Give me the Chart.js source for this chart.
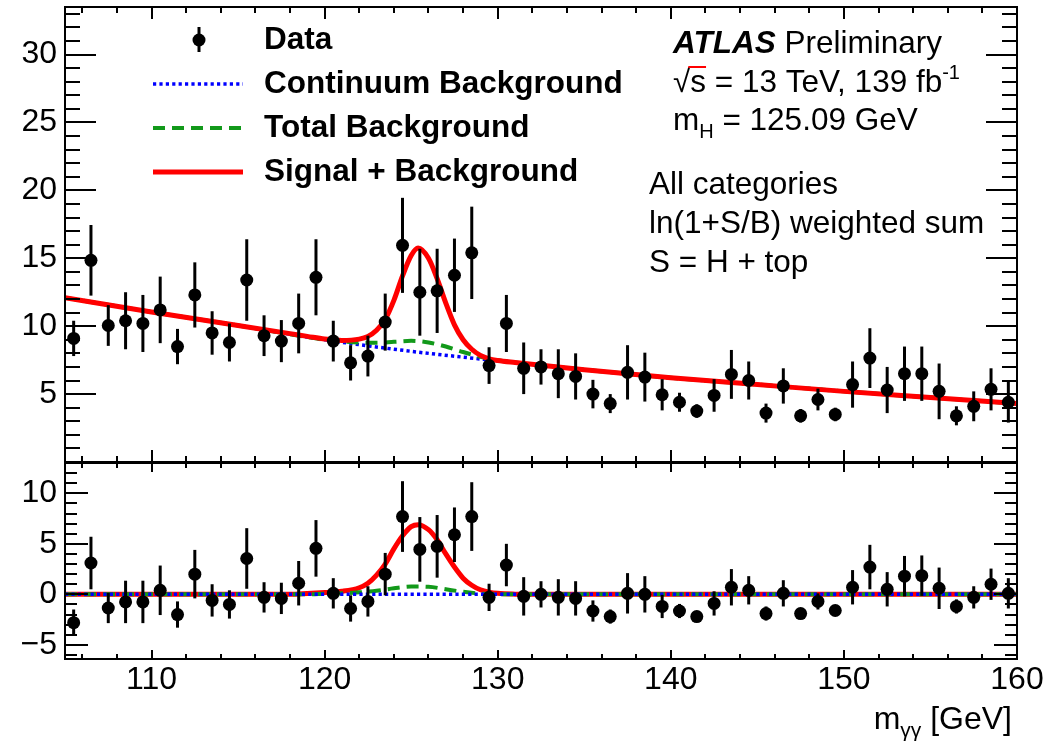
<!DOCTYPE html>
<html>
<head>
<meta charset="utf-8">
<script src="https://cdn.jsdelivr.net/npm/chart.js@4/dist/chart.umd.min.js"></script>
<style>
  body { margin: 0; background: #fff; }
  #wrap { position: relative; width: 1060px; height: 744px; }
  #topChart { position: absolute; left: 0; top: 0; }
  #ratioChart { position: absolute; left: 0; top: 455px; }
</style>
</head>
<body>
<div id="wrap">
  <canvas id="topChart" width="1060" height="470"></canvas>
  <canvas id="ratioChart" width="1060" height="289"></canvas>
</div>
<script>
// Diphoton mass spectrum, ln(1+S/B) weighted, with the background-subtracted panel below.

const massBins = [105.5, 106.5, 107.5, 108.5, 109.5, 110.5, 111.5, 112.5, 113.5, 114.5,
  115.5, 116.5, 117.5, 118.5, 119.5, 120.5, 121.5, 122.5, 123.5, 124.5,
  125.5, 126.5, 127.5, 128.5, 129.5, 130.5, 131.5, 132.5, 133.5, 134.5,
  135.5, 136.5, 137.5, 138.5, 139.5, 140.5, 141.5, 142.5, 143.5, 144.5,
  145.5, 146.5, 147.5, 148.5, 149.5, 150.5, 151.5, 152.5, 153.5, 154.5,
  155.5, 156.5, 157.5, 158.5, 159.5];

const dataEvents = [9.1, 14.85, 10.05, 10.4, 10.2, 11.2, 8.5, 12.3, 9.5, 8.8,
  13.4, 9.3, 8.9, 10.2, 13.6, 8.9, 7.3, 7.8, 10.3, 15.95,
  12.5, 12.6, 13.75, 15.4, 7.1, 10.2, 6.9, 7.0, 6.5, 6.3,
  5.0, 4.3, 6.6, 6.25, 4.95, 4.4, 3.75, 4.9, 6.45, 6.0,
  3.6, 5.6, 3.4, 4.6, 3.5, 5.7, 7.65, 5.3, 6.5, 6.5,
  5.2, 3.4, 4.1, 5.35, 4.4];

const dataErrors = [1.3, 2.6, 1.5, 2.1, 2.1, 2.45, 1.3, 2.4, 1.6, 1.4,
  3.0, 1.5, 1.55, 2.2, 2.8, 1.5, 1.3, 1.5, 2.1, 3.5,
  3.2, 3.1, 2.7, 3.4, 1.35, 2.1, 1.9, 1.3, 1.8, 1.7,
  1.05, 0.7, 2.0, 1.8, 1.15, 0.7, 0.5, 1.2, 1.8, 1.4,
  0.7, 1.3, 0.5, 0.8, 0.5, 1.7, 2.2, 1.7, 2.0, 2.0,
  2.05, 0.7, 1.1, 1.55, 1.5];

const dataMinusBkg = [-2.8, 3.1, -1.35, -0.75, -0.75, 0.4, -2.0, 2.0, -0.6, -1.0,
  3.55, -0.3, -0.4, 1.1, 4.55, 0.1, -1.4, -0.7, 2.0, 7.7,
  4.45, 4.75, 5.9, 7.7, -0.3, 2.9, -0.2, 0.0, -0.3, -0.4,
  -1.65, -2.2, 0.1, 0.0, -1.2, -1.65, -2.2, -0.9, 0.7, 0.4,
  -1.9, 0.1, -1.9, -0.7, -1.6, 0.7, 2.7, 0.5, 1.8, 1.85,
  0.6, -1.2, -0.3, 1.0, 0.1];

// fitted curves
const contMass = [105, 110, 115, 120, 125, 130, 135, 140, 145, 150, 155, 160];
const contValues = [12.1, 11.05, 10.05, 9.0, 8.15, 7.45, 6.8, 6.2, 5.7, 5.2, 4.75, 4.3];

const totalMass = [105, 110, 115, 119, 120, 121, 122, 123, 124, 125, 126, 127, 128, 129, 130, 131,
  135, 140, 145, 150, 155, 160];
const totalValues = [12.1, 11.05, 10.05, 9.2, 9.0, 8.88, 8.8, 8.78, 8.85, 8.92, 8.8, 8.5, 8.1, 7.75, 7.5, 7.32,
  6.8, 6.2, 5.7, 5.2, 4.75, 4.3];

const sbMass = [105, 110, 115, 118, 119, 120, 121, 122, 122.5, 123, 123.5, 124, 124.5, 125, 125.4,
  126, 126.5, 127, 127.5, 128, 128.5, 129, 129.5, 130, 131, 135, 140, 145, 150, 155, 160];
const sbValues = [12.1, 11.05, 10.05, 9.45, 9.25, 9.05, 8.95, 9.05, 9.25, 9.7, 10.5, 11.9, 13.7, 15.2, 15.75,
  15.0, 13.5, 11.7, 10.1, 9.0, 8.3, 7.85, 7.6, 7.47, 7.32, 6.8, 6.2, 5.7, 5.2, 4.75, 4.3];

// lower panel curves, continuum subtracted
const subContMass = [105, 160];
const subContValues = [0, 0];
const subTotalMass = [105, 119, 120, 121, 122, 123, 124, 125, 126, 127, 128, 129, 130, 131, 160];
const subTotalValues = [0, 0, 0.05, 0.1, 0.2, 0.35, 0.6, 0.78, 0.75, 0.5, 0.25, 0.08, 0.02, 0, 0];
const subSbMass = [105, 118, 119, 120, 121, 122, 122.5, 123, 123.5, 124, 124.5, 125, 125.4,
  126, 126.5, 127, 127.5, 128, 128.5, 129, 129.5, 130, 131, 132, 160];
const subSbValues = [0, 0, 0.08, 0.18, 0.3, 0.65, 1.1, 1.9, 3.0, 4.5, 5.8, 6.7, 6.9,
  6.4, 5.4, 4.0, 2.7, 1.6, 0.9, 0.45, 0.22, 0.1, 0.02, 0, 0];

const FONT = '"Liberation Sans", Arial, Helvetica, sans-serif';
const BLUE = '#0000ff', GREEN = '#12991a', RED = '#ff0000';

function pts(xs, ys) {
  return xs.map((x, i) => ({ x: x, y: ys[i] }));
}

function curve(label, xs, ys, color, width, dash, order) {
  return {
    label: label, data: pts(xs, ys), borderColor: color, borderWidth: width,
    borderDash: dash, pointRadius: 0, cubicInterpolationMode: 'monotone', order: order
  };
}

function dataSet(ys) {
  return {
    label: 'Data', data: pts(massBins, ys), errors: dataErrors, showLine: false,
    pointRadius: 6.5, pointBackgroundColor: '#000', pointBorderWidth: 0, order: 0
  };
}

// draw text made of pieces (for sub/superscripts)
function richText(ctx, x, y, parts) {
  let cx = x;
  parts.forEach(p => {
    ctx.font = p.font;
    ctx.fillText(p.t, cx, y + (p.dy || 0));
    cx += ctx.measureText(p.t).width;
  });
  return cx;
}

function richWidth(ctx, parts) {
  let w = 0;
  parts.forEach(p => { ctx.font = p.font; w += ctx.measureText(p.t).width; });
  return w;
}

// no extra room for the end labels, the frame is fixed by the layout padding
function noLabelPadding(s) {
  s.paddingTop = 0; s.paddingBottom = 0;
  s.paddingLeft = 0; s.paddingRight = 0;
}

// vertical error bars on the data points
const errorBars = {
  id: 'errorBars',
  afterDatasetsDraw(chart) {
    const ctx = chart.ctx, yScale = chart.scales.y, a = chart.chartArea;
    chart.data.datasets.forEach((ds, i) => {
      if (!ds.errors) return;
      const meta = chart.getDatasetMeta(i);
      ctx.save();
      ctx.beginPath();
      ctx.rect(a.left, a.top, a.right - a.left, a.bottom - a.top);
      ctx.clip();
      ctx.strokeStyle = '#000';
      ctx.lineWidth = 3;
      meta.data.forEach((pt, j) => {
        const v = ds.data[j].y, e = ds.errors[j];
        ctx.beginPath();
        ctx.moveTo(pt.x, yScale.getPixelForValue(v + e));
        ctx.lineTo(pt.x, yScale.getPixelForValue(v - e));
        ctx.stroke();
      });
      ctx.restore();
    });
  }
};

// ROOT style frame with inward ticks on all four sides
const frameTicks = {
  id: 'frameTicks',
  afterDraw(chart, args, opts) {
    const ctx = chart.ctx, a = chart.chartArea;
    const xs = chart.scales.x, ys = chart.scales.y;
    ctx.save();
    ctx.strokeStyle = '#000';
    ctx.lineWidth = 2;
    ctx.strokeRect(a.left, a.top, a.right - a.left, a.bottom - a.top);
    ctx.beginPath();
    for (let v = 106; v < 160; v += 2) {
      const px = Math.round(xs.getPixelForValue(v));
      const len = v % 10 === 0 ? opts.xMajor : opts.xMinor;
      ctx.moveTo(px, a.bottom); ctx.lineTo(px, a.bottom - len);
      ctx.moveTo(px, a.top); ctx.lineTo(px, a.top + len);
    }
    for (let v = Math.ceil(ys.min); v <= ys.max; v++) {
      const py = Math.round(ys.getPixelForValue(v));
      const len = v % 5 === 0 ? opts.yMajor : opts.yMinor;
      ctx.moveTo(a.left, py); ctx.lineTo(a.left + len, py);
      ctx.moveTo(a.right, py); ctx.lineTo(a.right - len, py);
    }
    ctx.stroke();
    ctx.restore();
  }
};

// legend and labels of the upper panel
const topLabels = {
  id: 'topLabels',
  afterDraw(chart) {
    const ctx = chart.ctx;
    const ds = chart.data.datasets;
    ctx.save();
    ctx.fillStyle = '#000';
    ctx.textBaseline = 'alphabetic';

    // legend samples
    ctx.beginPath();
    ctx.arc(199, 40, 6.5, 0, Math.PI * 2);
    ctx.fill();
    ctx.strokeStyle = '#000';
    ctx.lineWidth = 3;
    ctx.beginPath(); ctx.moveTo(199, 27); ctx.lineTo(199, 52); ctx.stroke();
    const rows = [[ds[3], 84], [ds[2], 128], [ds[1], 172]];
    rows.forEach(r => {
      ctx.strokeStyle = r[0].borderColor;
      ctx.lineWidth = r[0].borderWidth;
      ctx.setLineDash(r[0].borderDash || []);
      ctx.beginPath(); ctx.moveTo(153, r[1]); ctx.lineTo(243, r[1]); ctx.stroke();
    });
    ctx.setLineDash([]);

    ctx.font = 'bold 31.5px ' + FONT;
    ctx.fillText('Data', 264, 49);
    ctx.fillText('Continuum Background', 264, 93);
    ctx.fillText('Total Background', 264, 137);
    ctx.fillText('Signal + Background', 264, 181);

    const big = '31.5px ' + FONT, small = '20px ' + FONT;
    richText(ctx, 673, 53, [{ t: 'ATLAS', font: 'italic bold 31.5px ' + FONT }, { t: ' Preliminary', font: big }]);
    richText(ctx, 673, 92, [{ t: '\u221As = 13 TeV, 139 fb', font: big }, { t: '-1', font: small, dy: -13 }]);
    // bar over the s of the square root
    ctx.font = big;
    const rootW = ctx.measureText('\u221A').width, sW = ctx.measureText('s').width;
    ctx.lineWidth = 2;
    ctx.beginPath();
    ctx.moveTo(673 + rootW - 2, 92 - 25);
    ctx.lineTo(673 + rootW + sW, 92 - 25);
    ctx.stroke();
    richText(ctx, 673, 130, [{ t: 'm', font: big }, { t: 'H', font: small, dy: 8 }, { t: ' = 125.09 GeV', font: big }]);
    ctx.font = big;
    ctx.fillText('All categories', 649, 194);
    ctx.fillText('ln(1+S/B) weighted sum', 649, 233);
    ctx.fillText('S = H + top', 649, 272);
    ctx.restore();
  }
};

// x axis title under the lower panel
const axisTitle = {
  id: 'axisTitle',
  afterDraw(chart) {
    const ctx = chart.ctx;
    const parts = [
      { t: 'm', font: '32px ' + FONT },
      { t: '\u03B3\u03B3', font: '21px ' + FONT, dy: 8 },
      { t: ' [GeV]', font: '32px ' + FONT }
    ];
    ctx.save();
    ctx.fillStyle = '#000';
    const w = richWidth(ctx, parts);
    richText(ctx, 1012 - w, 274, parts);
    ctx.restore();
  }
};

function yAxis(min, max, hideZero) {
  return {
    min: min, max: max,
    afterFit(s) { s.width = 65; noLabelPadding(s); },
    grid: { display: false, drawTicks: false },
    border: { display: false },
    ticks: {
      stepSize: 5, includeBounds: false, padding: 8, color: '#000',
      font: { family: FONT, size: 32 },
      callback: v => (hideZero && v === 0) ? '' : (v < 0 ? '\u2212' + Math.abs(v) : String(v))
    }
  };
}

new Chart(document.getElementById('topChart'), {
  type: 'line',
  data: {
    datasets: [
      dataSet(dataEvents),
      curve('Signal + Background', sbMass, sbValues, RED, 5, [], 1),
      curve('Total Background', totalMass, totalValues, GREEN, 4, [12, 7], 2),
      curve('Continuum Background', contMass, contValues, BLUE, 3.5, [3.2, 3.2], 3)
    ]
  },
  options: {
    responsive: false, animation: false, devicePixelRatio: 1,
    layout: { padding: { top: 7, right: 43, bottom: 8, left: 0 } },
    plugins: {
      legend: { display: false }, tooltip: { enabled: false },
      frameTicks: { xMajor: 12, xMinor: 6, yMajor: 31, yMinor: 15 }
    },
    scales: {
      x: { type: 'linear', min: 105, max: 160, display: false },
      y: yAxis(0, 33.5, true)
    }
  },
  plugins: [errorBars, frameTicks, topLabels]
});

new Chart(document.getElementById('ratioChart'), {
  type: 'line',
  data: {
    datasets: [
      dataSet(dataMinusBkg),
      curve('Continuum Background', subContMass, subContValues, BLUE, 3.5, [3.2, 3.2], 1),
      curve('Total Background', subTotalMass, subTotalValues, GREEN, 4, [12, 7], 2),
      curve('Signal + Background', subSbMass, subSbValues, RED, 5, [], 3)
    ]
  },
  options: {
    responsive: false, animation: false, devicePixelRatio: 1,
    layout: { padding: { top: 8, right: 43, bottom: 0, left: 0 } },
    plugins: {
      legend: { display: false }, tooltip: { enabled: false },
      frameTicks: { xMajor: 9, xMinor: 5, yMajor: 23, yMinor: 12 }
    },
    scales: {
      x: {
        type: 'linear', min: 105, max: 160,
        afterFit(s) { s.height = 85; noLabelPadding(s); },
        grid: { display: false, drawTicks: false },
        border: { display: false },
        ticks: {
          stepSize: 10, includeBounds: false, autoSkip: false, maxRotation: 0,
          padding: 2, color: '#000', font: { family: FONT, size: 32 }
        }
      },
      y: yAxis(-6.4, 13, false)
    }
  },
  plugins: [errorBars, frameTicks, axisTitle]
});
</script>
</body>
</html>
